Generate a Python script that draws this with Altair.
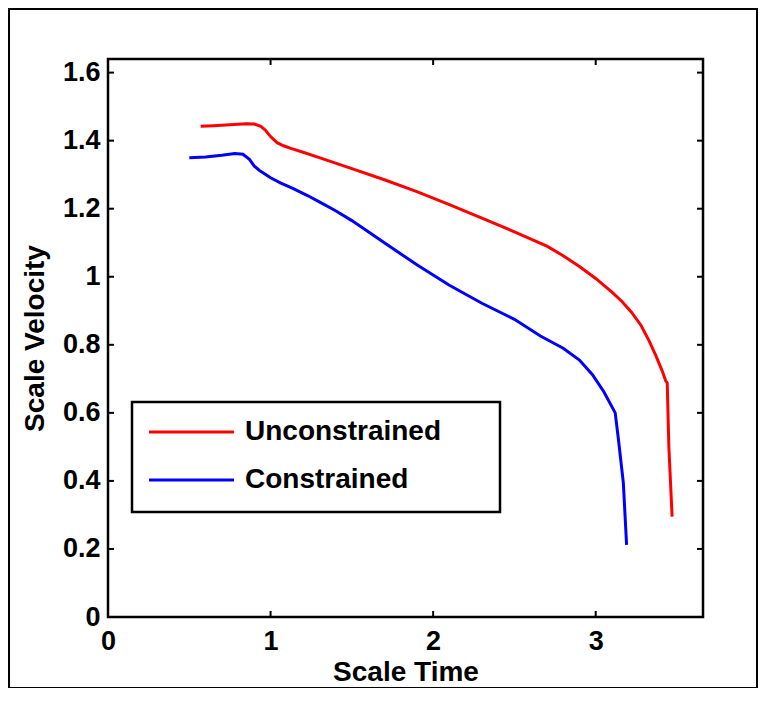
import altair as alt
import pandas as pd

# ---- data ----
unc_t = [0.57, 0.65, 0.75, 0.85, 0.90, 0.94, 0.97, 1.00, 1.04, 1.08, 1.12, 1.20, 1.30,
         1.40, 1.50, 1.70, 1.90, 2.10, 2.30, 2.50, 2.70, 2.80, 2.90, 3.00, 3.10, 3.16, 3.22,
         3.28, 3.33, 3.37, 3.41, 3.43, 3.44, 3.45, 3.47]
unc_v = [1.442, 1.444, 1.447, 1.450, 1.449, 1.442, 1.430, 1.412, 1.394, 1.385, 1.378,
         1.366, 1.350, 1.334, 1.318, 1.285, 1.250, 1.212, 1.172, 1.132, 1.090, 1.062, 1.030,
         0.995, 0.955, 0.928, 0.896, 0.856, 0.810, 0.768, 0.722, 0.695, 0.688, 0.500, 0.295]

con_t = [0.50, 0.60, 0.70, 0.78, 0.83, 0.87, 0.90, 0.93, 1.00, 1.06, 1.14, 1.23, 1.30,
         1.40, 1.50, 1.70, 1.90, 2.10, 2.30, 2.50, 2.66, 2.80, 2.90, 2.98, 3.05, 3.12, 3.14,
         3.17, 3.19]
con_v = [1.350, 1.352, 1.357, 1.362, 1.360, 1.345, 1.325, 1.313, 1.291, 1.276, 1.259,
         1.238, 1.220, 1.194, 1.165, 1.100, 1.035, 0.975, 0.922, 0.875, 0.826, 0.790, 0.755,
         0.712, 0.662, 0.600, 0.521, 0.394, 0.212]

series_names = ["Unconstrained", "Constrained"]
series_colors = ["#ff0000", "#0000ff"]

x_ticks = [0, 1, 2, 3]
y_ticks = [0, 0.2, 0.4, 0.6, 0.8, 1.0, 1.2, 1.4, 1.6]
x_domain = [0, 3.66]
y_domain = [0, 1.64]

W, H = 595, 558
FONT = "Liberation Sans"
FS = 27
FT = 28

df = pd.concat([
    pd.DataFrame({"t": unc_t, "v": unc_v, "series": series_names[0], "order": range(len(unc_t))}),
    pd.DataFrame({"t": con_t, "v": con_v, "series": series_names[1], "order": range(len(con_t))}),
])

xs = alt.Scale(domain=x_domain, nice=False, zero=False)
ys = alt.Scale(domain=y_domain, nice=False, zero=False)

lines = alt.Chart(df).mark_line(strokeWidth=3, clip=True).encode(
    x=alt.X("t:Q", scale=xs,
            axis=alt.Axis(values=x_ticks, title="Scale Time", ticks=False, domain=False,
                          grid=False, labelPadding=11, labelFontSize=FS, labelFont=FONT,
                          labelFontWeight="bold", labelColor="black", format="d",
                          labelFlush=False,
                          titleFontSize=FT, titleFont=FONT, titleFontWeight="bold",
                          titleColor="black", titleBaseline="middle", titleY=55, titleX=W / 2)),
    y=alt.Y("v:Q", scale=ys,
            axis=alt.Axis(values=y_ticks, title="Scale Velocity", ticks=False, domain=False,
                          grid=False, labelPadding=8, labelFontSize=FS, labelFont=FONT,
                          labelFontWeight="bold", labelColor="black", labelFlush=False,
                          labelExpr="datum.value == 1 ? '1' : datum.value == 0 ? '0' : format(datum.value, '.1f')",
                          titleFontSize=FT, titleFont=FONT, titleFontWeight="bold",
                          titleColor="black", titleBaseline="middle", titleX=-73, titleY=H / 2)),
    color=alt.Color("series:N", scale=alt.Scale(domain=series_names, range=series_colors), legend=None),
    order="order:Q",
    detail="series:N",
)

TL = 6
xt = pd.DataFrame({"t": x_ticks})
yt = pd.DataFrame({"v": y_ticks})
tick_b = alt.Chart(xt).mark_rule(color="black", strokeWidth=2).encode(
    x=alt.X("t:Q", scale=xs), y=alt.value(H), y2=alt.value(H - TL))
tick_t = alt.Chart(xt).mark_rule(color="black", strokeWidth=2).encode(
    x=alt.X("t:Q", scale=xs), y=alt.value(0), y2=alt.value(TL))
tick_l = alt.Chart(yt).mark_rule(color="black", strokeWidth=2).encode(
    y=alt.Y("v:Q", scale=ys), x=alt.value(0), x2=alt.value(TL))
tick_r = alt.Chart(yt).mark_rule(color="black", strokeWidth=2).encode(
    y=alt.Y("v:Q", scale=ys), x=alt.value(W), x2=alt.value(W - TL))

# outer figure frame
frame = alt.Chart(pd.DataFrame({"a": [0]})).mark_rect(
    fillOpacity=0, stroke="black", strokeWidth=2).encode(
    x=alt.value(-99), x2=alt.value(649), y=alt.value(-50), y2=alt.value(629))

# legend
leg_box = alt.Chart(pd.DataFrame({"a": [0]})).mark_rect(
    fill="white", stroke="black", strokeWidth=2.5).encode(
    x=alt.value(24), x2=alt.value(392), y=alt.value(343), y2=alt.value(453))
leg_items = []
for i, (name, col) in enumerate(zip(series_names, series_colors)):
    yy = 373 + 48 * i
    leg_items.append(alt.Chart(pd.DataFrame({"a": [0]})).mark_rule(color=col, strokeWidth=3).encode(
        x=alt.value(41), x2=alt.value(126), y=alt.value(yy)))
    leg_items.append(alt.Chart(pd.DataFrame({"a": [0]})).mark_text(
        text=name, align="left", baseline="middle", fontSize=FT, font=FONT,
        fontWeight="bold", color="black").encode(x=alt.value(137), y=alt.value(yy)))

chart = alt.layer(frame, lines, tick_b, tick_t, tick_l, tick_r, leg_box, *leg_items).properties(
    width=W, height=H,
    autosize=alt.AutoSizeParams(type="none"),
    padding={"left": 100, "top": 51, "right": 56, "bottom": 71},
    background="white",
).configure_view(stroke="black", strokeWidth=2.5)

chart.save("out.html", embed_options={"renderer": "svg", "actions": False})
